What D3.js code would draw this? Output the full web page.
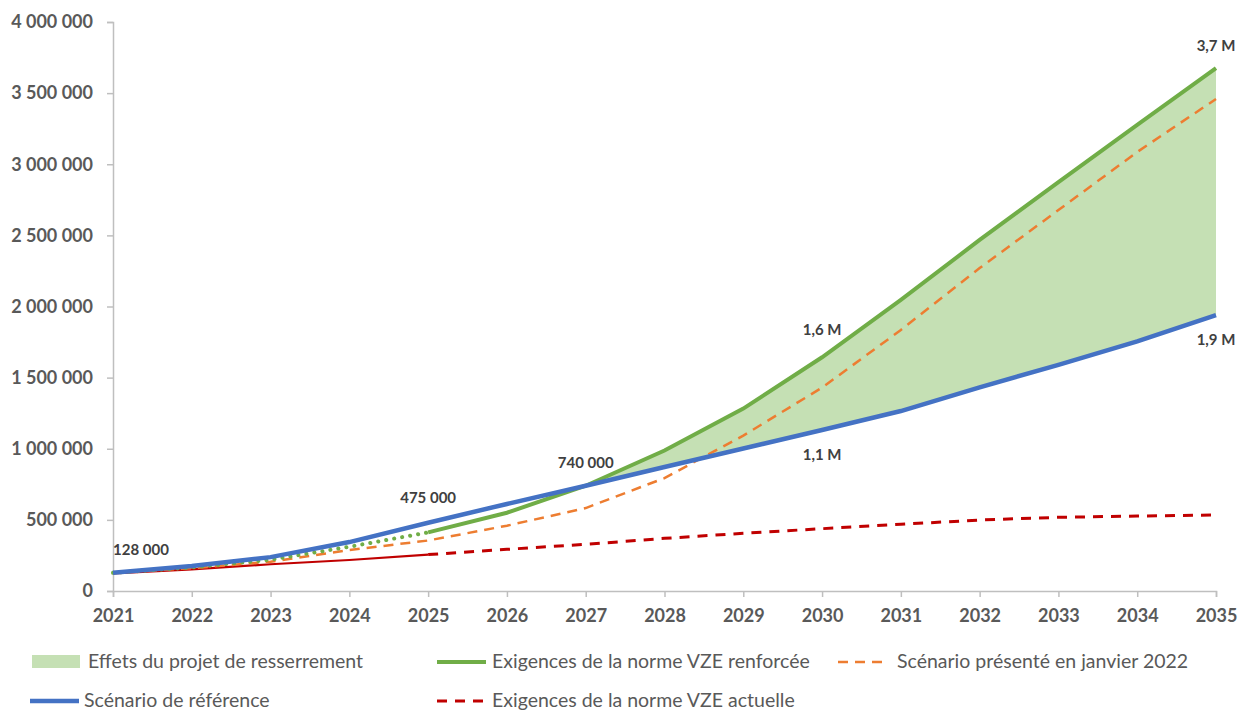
<!DOCTYPE html>
<html><head><meta charset="utf-8">
<script src="https://cdn.jsdelivr.net/npm/d3@7"></script>
<style>
html,body{margin:0;padding:0;background:#fff;}
svg{display:block;font-family:Lato,"Noto Sans",sans-serif;}
</style></head>
<body>
<svg id="chart" width="1241" height="712"></svg>
<script>
const years = [2021,2022,2023,2024,2025,2026,2027,2028,2029,2030,2031,2032,2033,2034,2035];
const reference = [128000,175000,238000,344000,480000,612000,740000,872000,1002000,1132000,1265000,1432000,1590000,1755000,1940000];
const vzeRenforcee = [128000,165000,220000,311000,412000,550000,740000,988000,1282000,1643000,2046000,2468000,2875000,3276000,3675000];
const janvier2022 = [128000,160000,206000,288000,355000,459000,583000,794000,1092000,1430000,1835000,2270000,2678000,3086000,3459000];
const vzeActuelle = [124000,152000,188000,218000,256000,293000,328000,370000,406000,438000,469000,499000,518000,527000,534000];
const yTicks = [0,500000,1000000,1500000,2000000,2500000,3000000,3500000,4000000];
const labelYears = [2021,2025,2027,2030,2030,2035,2035];
const labelValues = [128000,475000,740000,1132000,1643000,1940000,3675000];
const labelTexts = ["128 000","475 000","740 000","1,1 M","1,6 M","1,9 M","3,7 M"];
const legendLabels = ["Effets du projet de resserrement","Exigences de la norme VZE renforcée","Scénario présenté en janvier 2022","Scénario de référence","Exigences de la norme VZE actuelle"];

const svg = d3.select("#chart");
const x = d3.scaleLinear().domain([2021,2035]).range([113,1216]);
const y = d3.scaleLinear().domain([0,4000000]).range([591,22]);
const loc = d3.formatLocale({decimal:",",thousands:" ",grouping:[3],currency:["","€"]});
const fmt = loc.format(",d");

const axisColor = "#BFBFBF", textColor = "#595959";

// axes
const gy = svg.append("g").attr("transform","translate(113,0)")
  .call(d3.axisLeft(y).tickValues(yTicks).tickFormat(fmt).tickSize(6).tickPadding(14));
const gx = svg.append("g").attr("transform","translate(0,591)")
  .call(d3.axisBottom(x).tickValues(years).tickFormat(d3.format("d")).tickSize(6).tickPadding(12));
[gy,gx].forEach(g=>{
  g.select(".domain").attr("stroke",axisColor).attr("stroke-width",1.5);
  g.selectAll(".tick line").attr("stroke",axisColor).attr("stroke-width",1.5);
  g.selectAll(".tick text").attr("fill",textColor).attr("font-size",18).attr("font-weight",700)
    .attr("font-family","Lato, sans-serif");
});

const data = years.map((yr,i)=>({yr, ref:reference[i], ren:vzeRenforcee[i], jan:janvier2022[i], act:vzeActuelle[i]}));

// area
const areaData = data.filter(d=>d.yr>=2027);
svg.append("path").datum(areaData)
  .attr("fill","#C5E0B4")
  .attr("d", d3.area().x(d=>x(d.yr)).y0(d=>y(d.ref)).y1(d=>y(Math.max(d.ren,d.ref)))(areaData));

const line = key => d3.line().x(d=>x(d.yr)).y(d=>y(d[key]));

// red actuelle
svg.append("path").attr("fill","none").attr("stroke","#C00000").attr("stroke-width",2.2)
  .attr("d", line("act")(data.filter(d=>d.yr<=2025)));
svg.append("path").attr("fill","none").attr("stroke","#C00000").attr("stroke-width",3)
  .attr("stroke-dasharray","10 8")
  .attr("d", line("act")(data.filter(d=>d.yr>=2025)));
// orange
svg.append("path").attr("fill","none").attr("stroke","#ED7D31").attr("stroke-width",2.5)
  .attr("stroke-dasharray","10 7")
  .attr("d", line("jan")(data));
// green
svg.append("path").attr("fill","none").attr("stroke","#70AD47").attr("stroke-width",4)
  .attr("stroke-dasharray","0.1 8").attr("stroke-linecap","round")
  .attr("d", line("ren")(data.filter(d=>d.yr<=2025)));
svg.append("path").attr("fill","none").attr("stroke","#70AD47").attr("stroke-width",4)
  .attr("d", line("ren")(data.filter(d=>d.yr>=2025)));
// blue
svg.append("path").attr("fill","none").attr("stroke","#4472C4").attr("stroke-width",4.5)
  .attr("d", line("ref")(data));

// labels
const offsets = [[0,-18,"start"],[0,-20,"middle"],[0,-18,"middle"],[0,30,"middle"],[0,-22,"middle"],[0,30,"middle"],[0,-17,"middle"]];
labelTexts.forEach((t,i)=>{
  svg.append("text").attr("x", x(labelYears[i])+offsets[i][0]).attr("y", y(labelValues[i])+offsets[i][1])
    .attr("text-anchor",offsets[i][2]).attr("fill","#404040").attr("font-size",15).attr("font-weight",700)
    .text(t);
});

// legend
const leg = svg.append("g").attr("font-size",19.5).attr("fill",textColor);
const legItems = [
  {type:"area", x:32, y:662, tx:88},
  {type:"line", color:"#70AD47", dash:null, x:437, y:662, tx:492},
  {type:"line", color:"#ED7D31", dash:"10 7", x:838, y:662, tx:897, w:2.5},
  {type:"line", color:"#4472C4", dash:null, x:30, y:701, tx:84, w:4.5},
  {type:"line", color:"#C00000", dash:"10 8", x:437, y:701, tx:492, w:3}
];
legItems.forEach((it,i)=>{
  if(it.type==="area"){
    leg.append("rect").attr("x",it.x).attr("y",it.y-7).attr("width",48).attr("height",13).attr("fill","#C5E0B4");
  } else {
    leg.append("line").attr("x1",it.x).attr("x2",it.x+49).attr("y1",it.y).attr("y2",it.y)
      .attr("stroke",it.color).attr("stroke-width",it.w||4).attr("stroke-dasharray",it.dash);
  }
  leg.append("text").attr("x",it.tx).attr("y",it.y+6).text(legendLabels[i]);
});
</script>
</body></html>
